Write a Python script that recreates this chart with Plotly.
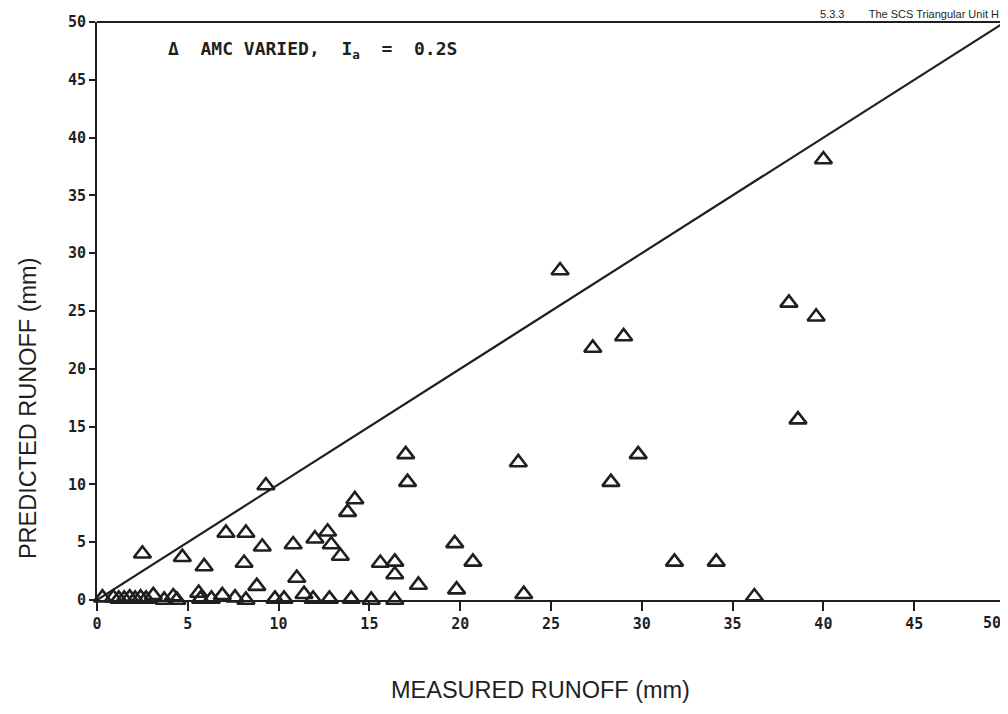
import plotly.graph_objects as go

# Measured vs predicted runoff (mm)
measured = [0.3, 0.9, 1.2, 1.5, 1.8, 2.1, 2.4, 2.7, 3.1, 3.7, 4.2, 4.4, 5.6, 5.7, 6.3, 6.9,
            7.6, 8.2, 9.8, 10.3, 11.4, 11.9, 12.8, 14.0, 15.1, 16.4,
            2.5, 4.7, 5.9, 7.1, 8.2, 9.1, 8.1, 8.8, 9.3, 17.0, 17.1, 14.2, 13.8, 10.8,
            12.0, 12.7, 12.9, 13.4, 11.0, 15.6, 16.4, 16.4, 17.7, 19.7, 20.7, 19.8,
            21.5, 23.5, 23.2, 28.3, 29.8, 31.8, 31.5, 34.1, 36.2, 38.6, 25.5, 27.3,
            29.0, 38.1, 39.6, 40.0]
predicted = [0.2, 0.2, 0.1, 0.1, 0.2, 0.1, 0.2, 0.1, 0.4, 0.0, 0.3, 0.0, 0.6, 0.1, 0.1, 0.4,
             0.2, 0.0, 0.1, 0.1, 0.5, 0.1, 0.1, 0.1, 0.0, 0.0,
             4.0, 3.7, 2.9, 5.8, 5.8, 4.6, 3.2, 1.2, 9.9, 12.6, 10.2, 8.7, 7.6, 4.8,
             5.3, 5.9, 4.8, 3.8, 1.9, 3.2, 3.3, 2.2, 1.3, 4.9, 3.3, 0.9,
             -0.2, 0.5, 11.9, 10.2, 12.6, 3.3, -0.3, 3.3, 0.3, 15.6, 28.5, 21.8,
             22.8, 25.7, 24.5, 38.1]

line_x = [0, 50]
line_y = [0, 50]
tick_vals = [0, 5, 10, 15, 20, 25, 30, 35, 40, 45, 50]
tick_text = ["0", "5", "10", "15", "20", "25", "30", "35", "40", "45", "50"]

ink = "#1f1f1f"
tick_font = dict(family="DejaVu Sans Mono", size=15, color=ink, weight="bold")

fig = go.Figure()
fig.add_trace(go.Scatter(x=line_x, y=line_y, mode="lines",
                         line=dict(color=ink, width=2.2), hoverinfo="skip",
                         showlegend=False, cliponaxis=False))
fig.add_trace(go.Scatter(x=measured, y=predicted, mode="markers",
                         marker=dict(symbol="triangle-up-open", size=15, color=ink,
                                     line=dict(color=ink, width=2.6)),
                         showlegend=False, cliponaxis=False))

fig.update_layout(
    width=1000, height=706,
    margin=dict(l=89, r=3, t=14, b=114),
    paper_bgcolor="white", plot_bgcolor="white",
    xaxis=dict(range=[0, 50], tickvals=tick_vals[:-1], ticktext=tick_text[:-1],
               showgrid=False, zeroline=False, showline=True, linecolor=ink,
               linewidth=2, ticks="outside", ticklen=9, automargin=False,
               tickwidth=2, tickcolor=ink, tickfont=tick_font),
    yaxis=dict(range=[0, 50], tickvals=tick_vals, ticktext=tick_text,
               showgrid=False, zeroline=False, showline=True, linecolor=ink,
               linewidth=2, ticks="outside", ticklen=6, tickwidth=2, automargin=False,
               tickcolor=ink, tickfont=tick_font),
    shapes=[dict(type="line", xref="paper", yref="paper", x0=0, x1=1, y0=1, y1=1,
                 line=dict(color=ink, width=2))],
    annotations=[
        dict(text="\u0394  AMC VARIED,  I<sub>a</sub>  =  0.2S", x=3.8, y=47.6,
             xref="x", yref="y", xanchor="left", yanchor="middle", showarrow=False,
             font=dict(family="DejaVu Sans Mono", size=18, color=ink, weight="bold")),
        dict(text="PREDICTED RUNOFF (mm)", textangle=-90, x=-0.076, y=0.332,
             xref="paper", yref="paper", xanchor="center", yanchor="middle",
             showarrow=False,
             font=dict(family="Liberation Sans", size=23.5, color=ink)),
        dict(text="MEASURED RUNOFF (mm)", x=0.488, y=-0.156, xref="paper", yref="paper",
             xanchor="center", yanchor="middle", showarrow=False,
             font=dict(family="Liberation Sans", size=23.5, color=ink)),
        dict(text="5.3.3        The SCS Triangular Unit H", x=1.0, y=1.0,
             xref="paper", yref="paper", xanchor="right", yanchor="bottom",
             xshift=-4, yshift=0, showarrow=False,
             font=dict(family="Liberation Sans", size=11, color=ink)),
        dict(text=tick_text[-1], x=tick_vals[-1], y=0, xref="x", yref="y",
             xanchor="right", yanchor="top", xshift=-2, yshift=-12, showarrow=False,
             font=tick_font),
    ],
)

fig.write_html("out.html")
